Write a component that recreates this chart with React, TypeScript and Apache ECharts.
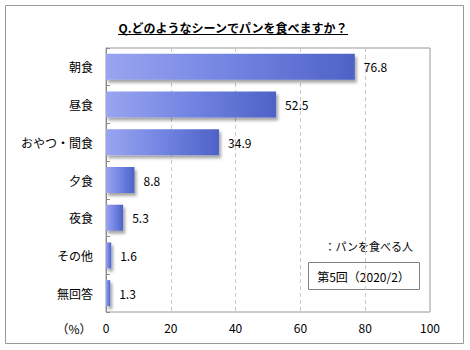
import React, { useEffect, useRef } from "react";
import * as echarts from "echarts";

const categories = ["朝食", "昼食", "おやつ・間食", "夕食", "夜食", "その他", "無回答"];
const values = [76.8, 52.5, 34.9, 8.8, 5.3, 1.6, 1.3];
const xTicks = [0, 20, 40, 60, 80, 100];
const titleText = "Q.どのようなシーンでパンを食べますか？";
const seriesName = "：パンを食べる人";
const waveLabel = "第5回（2020/2）";
const unitLabel = "（%）";

const FONT = "'Noto Sans CJK JP', 'Noto Sans', sans-serif";

export default function App() {
  const ref = useRef<HTMLDivElement>(null);
  useEffect(() => {
    if (!ref.current) return;
    const chart = echarts.init(ref.current, undefined, { renderer: "svg" });
    chart.setOption({
      animation: false,
      backgroundColor: "#ffffff",
      textStyle: { fontFamily: FONT },
      grid: {
        left: 106,
        right: 40,
        top: 48,
        bottom: 38,
        show: true,
        borderColor: "#9a9a9a",
        borderWidth: 1,
        backgroundColor: "transparent",
      },
      xAxis: {
        type: "value",
        min: xTicks[0],
        max: xTicks[xTicks.length - 1],
        interval: 20,
        axisLine: { show: false },
        axisTick: { show: false },
        axisLabel: { color: "#000", fontSize: 12, margin: 9, fontFamily: FONT },
        splitLine: { show: true, lineStyle: { color: "#c8c8c8", type: [4, 3] } },
      },
      yAxis: {
        type: "category",
        data: categories,
        inverse: true,
        axisLine: { show: true, lineStyle: { color: "#8a8a8a" } },
        axisTick: { show: true, inside: true, length: 4, lineStyle: { color: "#8a8a8a" } },
        axisLabel: { color: "#000", fontSize: 12, margin: 13, fontFamily: FONT },
      },
      series: [
        {
          type: "bar",
          name: seriesName,
          data: values,
          barCategoryGap: "31%",
          itemStyle: {
            color: new echarts.graphic.LinearGradient(0, 0, 1, 0, [
              { offset: 0, color: "#9aa5f0" },
              { offset: 0.5, color: "#7284e2" },
              { offset: 1, color: "#4e62c6" },
            ]),
            shadowColor: "rgba(0,0,0,0.35)",
            shadowBlur: 3,
            shadowOffsetX: 2,
            shadowOffsetY: 3,
          },
          label: {
            show: true,
            position: "right",
            distance: 9,
            color: "#000",
            fontSize: 12,
            fontFamily: FONT,
            formatter: (p: any) => p.value.toFixed(1),
          },
        },
      ],
      graphic: [
        {
          type: "rect",
          shape: { x: 5.5, y: 5.5, width: 458, height: 338 },
          style: { fill: "none", stroke: "#9a9a9a", lineWidth: 1 },
          silent: true,
        },
        {
          type: "text",
          x: 233,
          y: 27,
          style: {
            text: titleText,
            fontSize: 12,
            fontWeight: "bold",
            fontFamily: FONT,
            fill: "#000",
            textAlign: "center",
            textVerticalAlign: "middle",
          },
        },
        {
          type: "line",
          shape: { x1: 118, y1: 34.5, x2: 348, y2: 34.5 },
          style: { stroke: "#000", lineWidth: 1 },
        },
        {
          type: "text",
          x: 74,
          y: 328,
          style: {
            text: unitLabel,
            fontSize: 12,
            fontFamily: FONT,
            fill: "#000",
            textAlign: "center",
            textVerticalAlign: "middle",
          },
        },
        {
          type: "text",
          x: 413,
          y: 246,
          style: {
            text: seriesName,
            fontSize: 11,
            fontFamily: FONT,
            fill: "#000",
            textAlign: "right",
            textVerticalAlign: "middle",
          },
        },
        {
          type: "rect",
          shape: { x: 308.5, y: 262.5, width: 111, height: 27 },
          style: { fill: "#fff", stroke: "#808080", lineWidth: 1 },
        },
        {
          type: "text",
          x: 363.5,
          y: 276,
          style: {
            text: waveLabel,
            fontSize: 12,
            fontFamily: FONT,
            fill: "#000",
            textAlign: "center",
            textVerticalAlign: "middle",
          },
        },
      ],
    });
    return () => chart.dispose();
  }, []);
  return (
    <div
      ref={ref}
      style={{ position: "fixed", left: 0, top: 0, width: 470, height: 350 }}
    />
  );
}
